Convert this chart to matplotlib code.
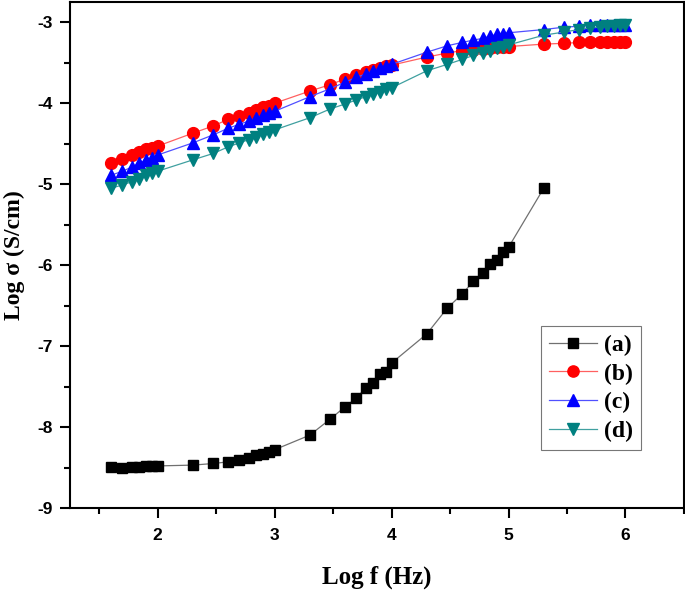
import matplotlib
matplotlib.use("Agg")
import matplotlib.pyplot as plt
from matplotlib.ticker import MultipleLocator

plt.rcParams["axes.unicode_minus"] = False

log_f = [1.602, 1.699, 1.778, 1.845, 1.903, 1.954, 2.000,
         2.301, 2.477, 2.602, 2.699, 2.778, 2.845, 2.903, 2.954, 3.000,
         3.301, 3.477, 3.602, 3.699, 3.778, 3.845, 3.903, 3.954, 4.000,
         4.301, 4.477, 4.602, 4.699, 4.778, 4.845, 4.903, 4.954, 5.000,
         5.301, 5.477, 5.602, 5.699, 5.778, 5.845, 5.903, 5.954, 6.000]

sig_a = [-8.49, -8.50, -8.49, -8.49, -8.48, -8.48, -8.48,
         -8.47, -8.45, -8.43, -8.41, -8.38, -8.35, -8.33, -8.31, -8.28,
         -8.10, -7.90, -7.75, -7.64, -7.52, -7.45, -7.34, -7.32, -7.21,
         -6.85, -6.53, -6.36, -6.20, -6.10, -5.98, -5.94, -5.84, -5.78,
         -5.05]

sig_b = [-4.74, -4.69, -4.64, -4.60, -4.57, -4.55, -4.53,
         -4.37, -4.28, -4.20, -4.16, -4.12, -4.08, -4.05, -4.03, -4.00,
         -3.85, -3.77, -3.70, -3.65, -3.62, -3.59, -3.57, -3.54, -3.53,
         -3.43, -3.38, -3.35, -3.34, -3.33, -3.32, -3.31, -3.31, -3.30,
         -3.27, -3.26, -3.25, -3.25, -3.25, -3.25, -3.25, -3.25, -3.25]

sig_c = [-4.89, -4.84, -4.79, -4.74, -4.70, -4.68, -4.64,
         -4.49, -4.39, -4.31, -4.26, -4.22, -4.18, -4.15, -4.12, -4.10,
         -3.92, -3.82, -3.74, -3.68, -3.64, -3.60, -3.57, -3.54, -3.52,
         -3.37, -3.29, -3.25, -3.22, -3.20, -3.17, -3.15, -3.14, -3.13,
         -3.09, -3.06, -3.05, -3.04, -3.04, -3.04, -3.03, -3.03, -3.03]

sig_d = [-5.05, -5.01, -4.97, -4.93, -4.89, -4.86, -4.84,
         -4.70, -4.62, -4.54, -4.49, -4.45, -4.42, -4.38, -4.35, -4.33,
         -4.18, -4.07, -4.01, -3.96, -3.92, -3.89, -3.86, -3.83, -3.81,
         -3.60, -3.52, -3.46, -3.41, -3.38, -3.35, -3.32, -3.30, -3.28,
         -3.16, -3.12, -3.09, -3.07, -3.06, -3.05, -3.05, -3.04, -3.04]

labels = ["(a)", "(b)", "(c)", "(d)"]

fig = plt.figure(figsize=(6.85, 5.93), dpi=100)
ax = fig.add_axes([0.102, 0.1433, 0.8965, 0.8533])

ax.plot(log_f[:len(sig_a)], sig_a, color="#707070", lw=0.9, marker="s", ms=7,
        mec="black", mfc="black", label=labels[0])
ax.plot(log_f, sig_b, color="#FF6060", lw=0.9, marker="o", ms=8.5,
        mec="#FF0000", mfc="#FF0000", label=labels[1])
ax.plot(log_f, sig_c, color="#5050FF", lw=0.9, marker="^", ms=9,
        mec="#0000FF", mfc="#0000FF", label=labels[2])
ax.plot(log_f, sig_d, color="#40A0A0", lw=0.9, marker="v", ms=9,
        mec="#008080", mfc="#008080", label=labels[3])

ax.set_xlim(1.25, 6.5)
ax.set_ylim(-9, -2.75)
ax.xaxis.set_major_locator(MultipleLocator(1))
ax.xaxis.set_minor_locator(MultipleLocator(0.5))
ax.yaxis.set_major_locator(MultipleLocator(1))
ax.yaxis.set_minor_locator(MultipleLocator(0.5))

for s in ax.spines.values():
    s.set_linewidth(1.5)
ax.tick_params(which="major", direction="out", length=7.5, width=1.5,
               labelsize=12.5)
ax.tick_params(which="minor", direction="out", length=4, width=1.5)
ax.tick_params(axis="x", which="major", pad=7)
ax.tick_params(axis="y", which="major", pad=5)
for lab in ax.get_xticklabels() + ax.get_yticklabels():
    lab.set_fontfamily("Liberation Sans")
    lab.set_fontweight("bold")

ax.set_xlabel("Log f (Hz)", fontfamily="Liberation Serif", fontweight="bold",
              fontsize=18, labelpad=16)
ax.set_ylabel("Log σ (S/cm)", fontfamily="Liberation Serif", fontweight="bold",
              fontsize=17, labelpad=9)

leg = ax.legend(loc="lower right", bbox_to_anchor=(0.930, 0.1146),
                borderaxespad=0,
                prop={"family": "Liberation Serif", "weight": "bold", "size": 17},
                frameon=True, fancybox=False, edgecolor="#555555",
                handlelength=2.0, labelspacing=0.3, borderpad=0.35,
                handletextpad=0.3, markerscale=0.95)
leg.get_frame().set_linewidth(0.8)

fig.savefig("out.png", dpi=100)
